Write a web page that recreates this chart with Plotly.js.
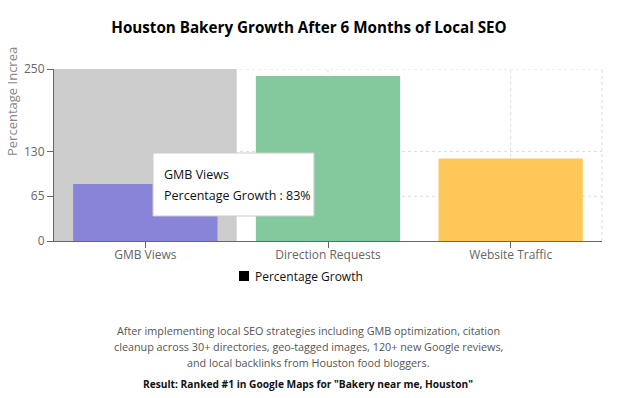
<!DOCTYPE html>
<html>
<head>
<meta charset="utf-8">
<script src="https://cdn.plot.ly/plotly-3.0.1.min.js"></script>
<style>
html,body{margin:0;padding:0;background:#fff;}
#chart{width:633px;height:398px;}
</style>
</head>
<body>
<div id="chart"></div>
<script>
const categories = ["GMB Views", "Direction Requests", "Website Traffic"];
const growth = [83, 240, 120];
const yTicks = [0, 65, 130, 250];
const seriesName = "Percentage Growth";
const titleText = "Houston Bakery Growth After 6 Months of Local SEO";
const yTitle = "Percentage Increa";
const notes = [
  "After implementing local SEO strategies including GMB optimization, citation",
  "cleanup across 30+ directories, geo-tagged images, 120+ new Google reviews,",
  "and local backlinks from Houston food bloggers."
];
const resultText = "Result: Ranked #1 in Google Maps for \"Bakery near me, Houston\"";

const palette = ["#8884d8", "#82ca9d", "#ffc658"];
const FONT = "Open Sans, Noto Sans, sans-serif";

const W = 633, H = 398, L = 54, R = 31, T = 69, B = 157;
const pw = W - L - R, ph = H - T - B;
const px = x => (x - L) / pw;
const py = y => (H - B - y) / ph;

const traces = [
  {
    type: "bar", x: categories, y: growth, name: seriesName,
    marker: {color: palette}, showlegend: false, hoverinfo: "skip"
  }
];

const annotations = [];
notes.forEach((t, i) => {
  annotations.push({
    xref: "paper", yref: "paper", x: px(308), y: py(330 + i * 16),
    xanchor: "center", yanchor: "middle", showarrow: false, text: t,
    font: {family: FONT, size: 10.8, color: "#555"}
  });
});
annotations.push({
  xref: "paper", yref: "paper", x: px(308), y: py(384),
  xanchor: "center", yanchor: "middle", showarrow: false,
  text: "<b>" + resultText + "</b>",
  font: {family: FONT, size: 10.2, color: "#111"}
});
annotations.push({
  xref: "paper", yref: "paper", x: px(12), y: py(102),
  xanchor: "center", yanchor: "middle", showarrow: false, textangle: -90,
  text: yTitle, font: {family: FONT, size: 13, color: "#888"}
});
// legend (custom)
annotations.push({
  xref: "paper", yref: "paper", x: px(253), y: py(276),
  xanchor: "left", yanchor: "middle", showarrow: false,
  text: seriesName, font: {family: FONT, size: 12, color: "#111"}
});
// tooltip
annotations.push({
  xref: "paper", yref: "paper", x: px(162), y: py(174),
  xanchor: "left", yanchor: "middle", showarrow: false,
  text: categories[0], font: {family: FONT, size: 12.5, color: "#111"}
});
annotations.push({
  xref: "paper", yref: "paper", x: px(162), y: py(195),
  xanchor: "left", yanchor: "middle", showarrow: false,
  text: seriesName + " : " + growth[0] + "%", font: {family: FONT, size: 12.5, color: "#111"}
});

const gridLine = {color: "#dddddd", width: 1, dash: "3px,3px"};
const shapes = [];
yTicks.filter(v => v > 0).forEach(v => {
  shapes.push({type: "line", xref: "paper", yref: "y", x0: 0, x1: 1, y0: v, y1: v,
    line: gridLine, layer: "below"});
});
categories.forEach((c, i) => {
  shapes.push({type: "line", xref: "x", yref: "paper", x0: i, x1: i, y0: 0, y1: 1,
    line: gridLine, layer: "below"});
});
shapes.push({type: "line", xref: "paper", yref: "paper", x0: 1, x1: 1, y0: 0, y1: 1,
  line: gridLine, layer: "below"});
// hover cursor band
shapes.push({type: "rect", xref: "x", yref: "paper", x0: -0.5, x1: 0.5, y0: 0, y1: 1,
  fillcolor: "#cccccc", line: {width: 0}, layer: "below"});
// legend swatch
shapes.push({type: "rect", xref: "paper", yref: "paper", x0: px(239), x1: px(249), y0: py(281), y1: py(271),
  fillcolor: "#000", line: {width: 0}, layer: "above"});
// tooltip box
shapes.push({type: "rect", xref: "paper", yref: "paper", x0: px(153), x1: px(314), y0: py(216), y1: py(153),
  fillcolor: "#ffffff", line: {color: "#cccccc", width: 1}, layer: "above"});

const layout = {
  width: W, height: H,
  margin: {l: L, r: R, t: T, b: B},
  paper_bgcolor: "#fff", plot_bgcolor: "#fff",
  font: {family: FONT, size: 12, color: "#666"},
  title: {
    text: "<b>" + titleText + "</b>", x: 309 / W, xanchor: "center",
    y: 1 - 28 / H, yanchor: "middle", font: {family: FONT, size: 15.2, color: "#000"}
  },
  bargap: 0.21,
  xaxis: {
    type: "category", range: [-0.5, 2.5],
    showline: true, linecolor: "#666", linewidth: 1,
    ticks: "outside", ticklen: 6, tickcolor: "#666", ticklabelstandoff: -3,
    showgrid: false,
    tickfont: {family: FONT, size: 12, color: "#666"}, zeroline: false
  },
  yaxis: {
    range: [0, 250], tickvals: yTicks, ticktext: yTicks.map(String),
    showline: true, linecolor: "#666", linewidth: 1,
    ticks: "outside", ticklen: 6, tickcolor: "#666",
    showgrid: false,
    tickfont: {family: FONT, size: 12, color: "#666"}, zeroline: false
  },
  showlegend: false,
  hovermode: false,
  annotations: annotations,
  shapes: shapes
};

Plotly.newPlot("chart", traces, layout, {displayModeBar: false, staticPlot: true});
</script>
</body>
</html>
